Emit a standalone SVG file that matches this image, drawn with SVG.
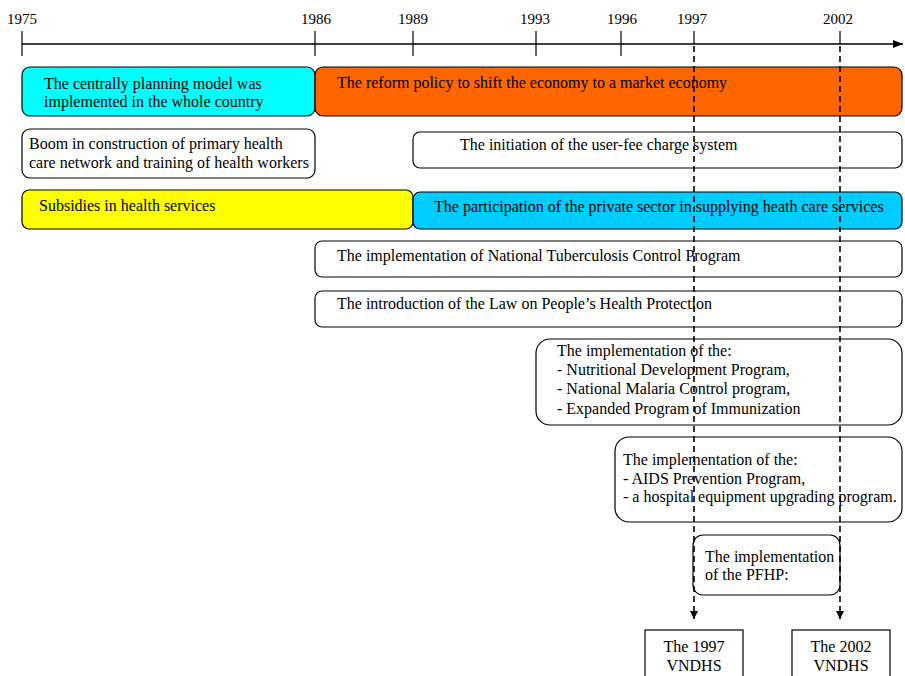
<svg xmlns="http://www.w3.org/2000/svg" width="905" height="676" viewBox="0 0 905 676">
<style>
text{font-family:"Liberation Serif","Times New Roman",serif;font-size:16px;fill:#000}
.yr{text-anchor:middle;font-size:15px}
.ctr{text-anchor:middle}
.box{stroke:#000;stroke-width:1.2}
.tick{stroke:#000;stroke-width:1.2}
.dash{stroke:#000;stroke-width:1.6;stroke-dasharray:6,4;fill:none}
</style>
<defs>
<marker id="ah" markerWidth="10" markerHeight="8" refX="10" refY="4" orient="auto" markerUnits="userSpaceOnUse">
<path d="M0,0 L10,4 L0,8 z" fill="#000"/>
</marker>
<marker id="ahd" markerWidth="8" markerHeight="10" refX="8" refY="4" orient="auto" markerUnits="userSpaceOnUse">
<path d="M0,0 L8,4 L0,8 z" fill="#000"/>
</marker>
</defs>
<rect width="905" height="676" fill="#fff"/>

<g id="timeline">
<line x1="22" y1="44" x2="903" y2="44" stroke="#000" stroke-width="1.4" marker-end="url(#ah)"/>
<line class="tick" x1="22" y1="31" x2="22" y2="56"/>
<line class="tick" x1="315" y1="31" x2="315" y2="56"/>
<line class="tick" x1="413" y1="31" x2="413" y2="56"/>
<line class="tick" x1="536" y1="31" x2="536" y2="56"/>
<line class="tick" x1="621" y1="31" x2="621" y2="56"/>
<line class="tick" x1="694" y1="31" x2="694" y2="44"/>
<line class="tick" x1="840" y1="31" x2="840" y2="44"/>
<text class="yr" x="22" y="24">1975</text>
<text class="yr" x="316" y="24">1986</text>
<text class="yr" x="413" y="24">1989</text>
<text class="yr" x="535" y="24">1993</text>
<text class="yr" x="622" y="24">1996</text>
<text class="yr" x="692" y="24">1997</text>
<text class="yr" x="838" y="24">2002</text>
</g>

<g id="n-central"><rect class="box" x="22" y="67" width="293" height="49" rx="8" fill="#00FFFF"/>
<text x="44" y="89">The centrally planning model was</text><text x="44" y="107">implemented in the whole country</text></g>
<g id="n-reform"><rect class="box" x="315" y="67" width="587" height="49" rx="8" fill="#FF6600"/>
<text x="337" y="88">The reform policy to shift the economy to a market economy</text></g>
<g id="n-boom"><rect class="box" x="22" y="129" width="293" height="49" rx="8" fill="#fff"/>
<text x="29" y="149">Boom in construction of primary health</text><text x="29" y="168">care network and training of health workers</text></g>
<g id="n-userfee"><rect class="box" x="413" y="132" width="489" height="36" rx="7" fill="#fff"/>
<text x="460" y="150">The initiation of the user-fee charge system</text></g>
<g id="n-subsidies"><rect class="box" x="22" y="190" width="391" height="39" rx="7" fill="#FFFF00"/>
<text x="39" y="211">Subsidies in health services</text></g>
<g id="n-private"><rect class="box" x="413" y="192" width="489" height="37" rx="7" fill="#00CCFF"/>
<text x="434" y="212">The participation of the private sector in supplying heath care services</text></g>
<g id="n-tb"><rect class="box" x="315" y="241" width="587" height="36" rx="7" fill="#fff"/>
<text x="337" y="261">The implementation of National Tuberculosis Control Program</text></g>
<g id="n-law"><rect class="box" x="315" y="291" width="587" height="36" rx="7" fill="#fff"/>
<text x="337" y="309">The introduction of the Law on People’s Health Protection</text></g>
<g id="n-impl1"><rect class="box" x="536" y="339" width="366" height="86" rx="14" fill="#fff"/>
<text x="557" y="356">The implementation of the:</text>
<text x="557" y="375">- Nutritional Development Program,</text>
<text x="557" y="394">- National Malaria Control program,</text>
<text x="557" y="414">- Expanded Program of Immunization</text></g>
<g id="n-impl2"><rect class="box" x="615" y="437" width="287" height="85" rx="14" fill="#fff"/>
<text x="623" y="465">The implementation of the:</text>
<text x="623" y="484">- AIDS Prevention Program,</text>
<text x="623" y="502">- a hospital equipment upgrading program.</text></g>
<g id="n-pfhp"><rect class="box" x="693" y="535" width="147" height="60" rx="10" fill="#fff"/>
<text x="705" y="562">The implementation</text><text x="705" y="580">of the PFHP:</text></g>
<g id="n-v1997"><rect class="box" x="645" y="630" width="98" height="50" fill="#fff"/>
<text class="ctr" x="694" y="652">The 1997</text><text class="ctr" x="694" y="671">VNDHS</text></g>
<g id="n-v2002"><rect class="box" x="792" y="630" width="98" height="50" fill="#fff"/>
<text class="ctr" x="841" y="652">The 2002</text><text class="ctr" x="841" y="671">VNDHS</text></g>

<g id="connectors">
<line class="dash" x1="694" y1="46" x2="694" y2="619" marker-end="url(#ahd)"/>
<line class="dash" x1="840" y1="46" x2="840" y2="619" marker-end="url(#ahd)"/>
</g>
</svg>
